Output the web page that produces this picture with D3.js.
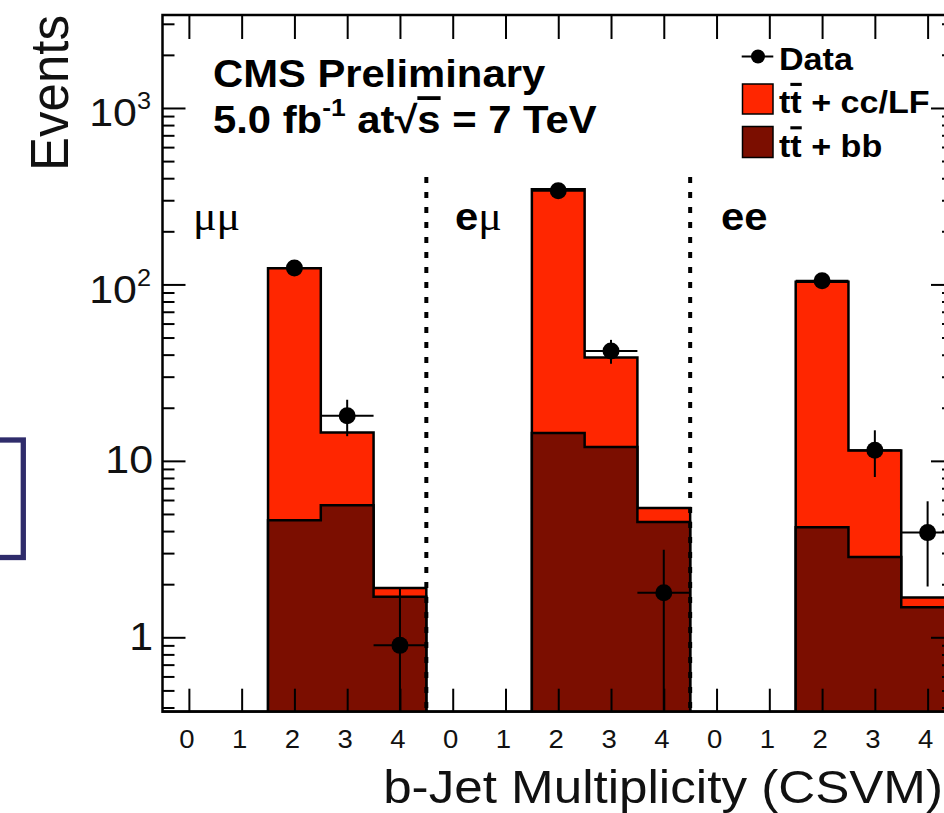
<!DOCTYPE html>
<html><head><meta charset="utf-8">
<script src="https://cdn.jsdelivr.net/npm/d3@7"></script>
<style>
html,body{margin:0;padding:0;background:#fff;}
svg{display:block;}
text{font-family:"Liberation Sans",Arial,Helvetica,sans-serif;}
</style>
</head><body>
<svg id="c" width="944" height="813"></svg>
<script>
// ---------------- data ----------------
const channels = ["μμ", "eμ", "ee"];
const binLabels = ["0", "1", "2", "3", "4"];
// per-bin contributions, 15 bins = 3 channels x 5 b-jet multiplicities
const ttccLF = [0, 0, 119, 8.9, 0.2,   0, 0, 332, 26.5, 0.9,   0, 0, 99.5, 8.6, 0.2];
const ttbb   = [0, 0, 4.6, 5.6, 1.7,   0, 0, 14.4, 12.0, 4.5,  0, 0, 4.2, 2.85, 1.48];
const dataVals    = [null, null, 124, 18, 0.9,  null, null, 340, 42, 1.79,  null, null, 105, 11.5, 3.92];
const dataErrUp   = [null, null, 11, 4.2, 1.0,  null, null, 18, 6.5, 1.34,  null, null, 10.2, 3.4, 1.98];
const dataErrDown = [null, null, 11, 4.2, 0.9,  null, null, 18, 6.5, 1.79,  null, null, 10.2, 3.4, 1.98];
const yMajor = [1, 10, 100, 1000];
const yMajorLabels = [["1", ""], ["10", ""], ["10", "2"], ["10", "3"]];
const legendData = "Data";
const legendCC = [["t", false], ["t", true], [" + cc/LF", false]];
const legendBB = [["t", false], ["t", true], [" + bb", false]];
const xTitle = "b-Jet Multiplicity (CSVM)";
const yTitle = "Events";

// ---------------- layout ----------------
const X0 = 162.5, X1 = 954, Y0 = 711.7, Y1 = 15;
const SX = 1.1;
const RED = "#ff2600", DARK = "#7b0e00";
const svg = d3.select("#c");
svg.append("rect").attr("width", 944).attr("height", 813).attr("fill", "#fff");

const x = d3.scaleLinear().domain([-0.5, 14.5]).range([X0, X1]);
const y = d3.scaleLog().domain([0.3787, 3365]).range([Y0, Y1]);
const yc = v => (v == null || v <= 0) ? Y0 : Math.max(Y1, Math.min(Y0, y(v)));

svg.append("defs").append("clipPath").attr("id", "frameclip")
  .append("rect").attr("x", X0).attr("y", Y1).attr("width", X1 - X0).attr("height", Y0 - Y1);

const plot = svg.append("g").attr("clip-path", "url(#frameclip)");

function stepPath(vals) {
  let p = `M${x(-0.5)},${Y0}`;
  vals.forEach((v, i) => {
    const yy = yc(v);
    p += `L${x(i - 0.5)},${yy}L${x(i + 0.5)},${yy}`;
  });
  p += `L${x(14.5)},${Y0}Z`;
  return p;
}
const totals = ttbb.map((b, i) => b + ttccLF[i]);
plot.append("path").attr("d", stepPath(totals)).attr("fill", RED)
  .attr("stroke", "#000").attr("stroke-width", 2.5).attr("stroke-linejoin", "miter");
plot.append("path").attr("d", stepPath(ttbb)).attr("fill", DARK)
  .attr("stroke", "#000").attr("stroke-width", 2.5);

// channel separators
[4.5, 9.5].forEach(b => {
  plot.append("line").attr("x1", x(b)).attr("x2", x(b)).attr("y1", 177).attr("y2", Y0)
    .attr("stroke", "#000").attr("stroke-width", 4).attr("stroke-dasharray", "6 9");
});

// data points
dataVals.forEach((v, i) => {
  if (v == null) return;
  const cy = y(v);
  plot.append("line").attr("x1", x(i - 0.5)).attr("x2", x(i + 0.5)).attr("y1", cy).attr("y2", cy)
    .attr("stroke", "#000").attr("stroke-width", 2);
  plot.append("line").attr("x1", x(i)).attr("x2", x(i))
    .attr("y1", yc(v + dataErrUp[i])).attr("y2", yc(v - dataErrDown[i]))
    .attr("stroke", "#000").attr("stroke-width", 2);
  plot.append("circle").attr("cx", x(i)).attr("cy", cy).attr("r", 8.5).attr("fill", "#000");
});

// ---------------- axes ----------------
const yMinor = [];
[0.1, 1, 10, 100, 1000].forEach(d => { for (let k = 2; k <= 9; k++) { const v = d * k; if (v > 0.3787 && v < 3365) yMinor.push(v); } });
const styleAxis = g => {
  g.select(".domain").remove();
  g.selectAll(".tick line").attr("stroke", "#000").attr("stroke-width", 2);
  g.selectAll(".tick text").remove();
};
const axes = svg.append("g");
axes.append("g").attr("transform", `translate(${X0},0)`)
  .call(d3.axisRight(y).tickValues(yMajor).tickSize(23).tickFormat("")).call(styleAxis);
axes.append("g").attr("transform", `translate(${X0},0)`)
  .call(d3.axisRight(y).tickValues(yMinor).tickSize(12).tickFormat("")).call(styleAxis);
axes.append("g").attr("transform", `translate(${X1},0)`)
  .call(d3.axisLeft(y).tickValues(yMajor).tickSize(23).tickFormat("")).call(styleAxis);
axes.append("g").attr("transform", `translate(${X1},0)`)
  .call(d3.axisLeft(y).tickValues(yMinor).tickSize(12).tickFormat("")).call(styleAxis);
axes.append("g").attr("transform", `translate(0,${Y0})`)
  .call(d3.axisTop(x).tickValues(d3.range(15)).tickSize(23).tickFormat("")).call(styleAxis);
axes.append("g").attr("transform", `translate(0,${Y1})`)
  .call(d3.axisBottom(x).tickValues(d3.range(15)).tickSize(24).tickFormat("")).call(styleAxis);
axes.append("rect").attr("x", X0).attr("y", Y1).attr("width", X1 - X0).attr("height", Y0 - Y1)
  .attr("fill", "none").attr("stroke", "#000").attr("stroke-width", 2.5);

// ---------------- text ----------------
function txt(xp, yp, size, opts = {}) {
  const t = svg.append("text")
    .attr("transform", `translate(${xp},${yp}) scale(${opts.sx || SX},1)`)
    .attr("font-size", size)
    .attr("fill", opts.fill || "#000")
    .attr("text-anchor", opts.anchor || "start");
  if (opts.weight) t.attr("font-weight", opts.weight);
  if (opts.family) t.attr("font-family", opts.family);
  return t;
}

// x tick labels
d3.range(15).forEach(i => {
  txt(x(i) - 2, 748, 25, { anchor: "middle", fill: "#111" }).text(binLabels[i % 5]);
});
// y tick labels
yMajor.forEach((v, k) => {
  const [base, sup] = yMajorLabels[k];
  if (sup) {
    const t = txt(151, y(v) + 18.5, 39, { anchor: "end", fill: "#111" });
    t.append("tspan").text(base);
    t.append("tspan").attr("font-size", 23).attr("dy", -17).text(sup);
  } else {
    txt(153, y(v) + 12.5, 39, { anchor: "end", fill: "#111" }).text(base);
  }
});
// axis titles
txt(943, 803, 46.5, { anchor: "end", fill: "#111" }).text(xTitle);
svg.append("text").attr("transform", "translate(68,15) rotate(-90) scale(1,1.04)")
  .attr("font-size", 51).attr("text-anchor", "end").attr("fill", "#111").text(yTitle);

// CMS label
txt(213, 87.3, 38, { weight: "bold" }).text("CMS Preliminary");
{
  const t = txt(213, 133.3, 38, { weight: "bold" });
  t.append("tspan").text("5.0 fb");
  t.append("tspan").attr("font-size", 24).attr("dy", -17).text("-1");
  t.append("tspan").attr("dy", 17).text(" at√");
  t.append("tspan").attr("text-decoration", "overline").style("text-decoration", "overline").text("s");
  t.append("tspan").text(" = 7 TeV");
}

// channel labels
const chX = [193, 455, 721];
channels.forEach((c, k) => {
  const t = txt(chX[k], 230, 38);
  for (const ch of c) {
    if (ch === "μ") t.append("tspan").attr("font-family", "'Liberation Serif','DejaVu Serif',serif").attr("font-size", 40).text(ch);
    else t.append("tspan").attr("font-weight", "bold").text(ch);
  }
});

// legend
svg.append("line").attr("x1", 741.7).attr("x2", 773.3).attr("y1", 56.5).attr("y2", 56.5)
  .attr("stroke", "#000").attr("stroke-width", 2);
svg.append("circle").attr("cx", 758).attr("cy", 56.5).attr("r", 7).attr("fill", "#000");
svg.append("rect").attr("x", 742.5).attr("y", 84).attr("width", 30.5).attr("height", 30)
  .attr("fill", RED).attr("stroke", "#000").attr("stroke-width", 1.5);
svg.append("rect").attr("x", 742.5).attr("y", 126.5).attr("width", 30.5).attr("height", 31)
  .attr("fill", DARK).attr("stroke", "#000").attr("stroke-width", 1.5);
txt(779, 70, 31, { weight: "bold" }).text(legendData);
[[legendCC, 113.3], [legendBB, 156.7]].forEach(([parts, by]) => {
  const t = txt(779, by, 31, { weight: "bold" });
  parts.forEach(([s, over]) => {
    const sp = t.append("tspan").text(s);
    if (over) sp.attr("text-decoration", "overline").style("text-decoration", "overline");
  });
});

// stray frame on the left edge of the picture
svg.append("rect").attr("x", -20).attr("y", 440).attr("width", 43.3).attr("height", 117.5)
  .attr("fill", "none").attr("stroke", "#2f2c6b").attr("stroke-width", 5.3);
</script>
</body></html>
